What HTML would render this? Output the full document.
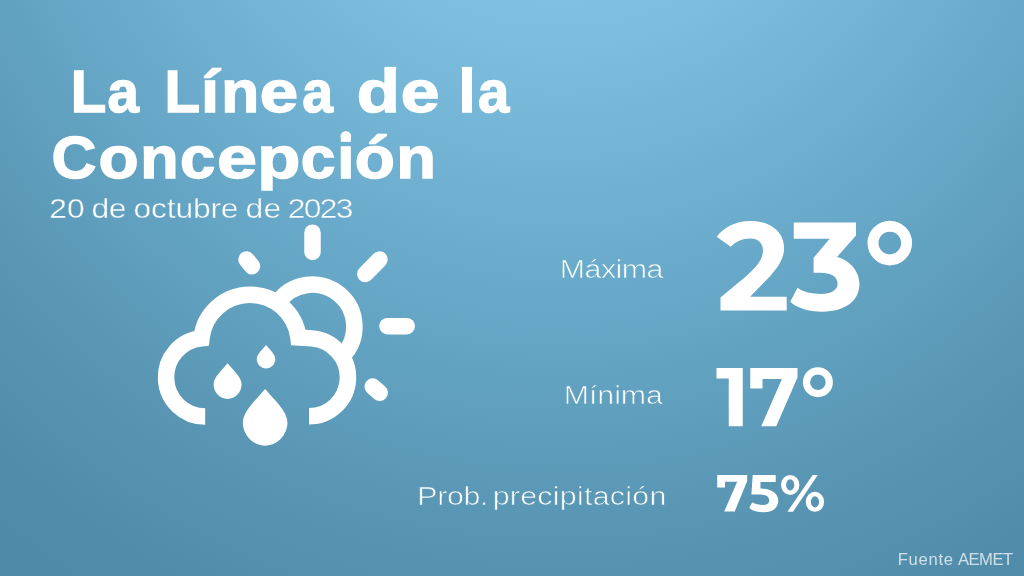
<!DOCTYPE html>
<html>
<head>
<meta charset="utf-8">
<title>La Línea de la Concepción</title>
<style>
html,body{margin:0;padding:0;background:#5f9ebd;}
body{width:1024px;height:576px;overflow:hidden;}
.card{position:relative;width:1024px;height:576px;overflow:hidden;
  background:radial-gradient(924px 1027px at 560px -300px,#80c1e3 29.2%,#68a9c9 58.4%,#5a98b6 77.9%,#4f8aa8 100%);}
.card svg{position:absolute;left:0;top:0;display:block;will-change:transform;}
text{font-family:"Liberation Sans",sans-serif;}
</style>
</head>
<body>
<div class="card">
<svg width="1024" height="576" viewBox="0 0 1024 576" role="img" aria-label="Previsión meteorológica para La Línea de la Concepción">
  <defs><mask id="all" maskUnits="userSpaceOnUse" x="0" y="0" width="1024" height="576"><rect width="1024" height="576" fill="#fff"/></mask></defs>
  <g mask="url(#all)">
  <!-- title + date -->
  <g font-weight="bold" font-size="58.89" fill="#fff" stroke="#fff" stroke-width="1.4" stroke-linejoin="miter" stroke-miterlimit="2">
    <text y="112.15"><tspan x="70.75" textLength="35.52" lengthAdjust="spacingAndGlyphs">L</tspan><tspan x="107.40" textLength="31.41" lengthAdjust="spacingAndGlyphs">a</tspan> <tspan x="164.45" textLength="35.52" lengthAdjust="spacingAndGlyphs">L</tspan><tspan x="201.05" textLength="18.00" lengthAdjust="spacingAndGlyphs">í</tspan><tspan x="221.15" textLength="37.94" lengthAdjust="spacingAndGlyphs">n</tspan><tspan x="259.75" textLength="38.39" lengthAdjust="spacingAndGlyphs">e</tspan><tspan x="302.30" textLength="30.76" lengthAdjust="spacingAndGlyphs">a</tspan> <tspan x="356.80" textLength="43.15" lengthAdjust="spacingAndGlyphs">d</tspan><tspan x="400.65" textLength="38.72" lengthAdjust="spacingAndGlyphs">e</tspan> <tspan x="458.40" textLength="17.14" lengthAdjust="spacingAndGlyphs">l</tspan><tspan x="478.10" textLength="31.26" lengthAdjust="spacingAndGlyphs">a</tspan></text>
    <text y="177.85"><tspan x="51.55" textLength="44.93" lengthAdjust="spacingAndGlyphs">C</tspan><tspan x="98.45" textLength="40.17" lengthAdjust="spacingAndGlyphs">o</tspan><tspan x="140.25" textLength="38.36" lengthAdjust="spacingAndGlyphs">n</tspan><tspan x="179.95" textLength="35.21" lengthAdjust="spacingAndGlyphs">c</tspan><tspan x="217.00" textLength="39.99" lengthAdjust="spacingAndGlyphs">e</tspan><tspan x="257.25" textLength="43.09" lengthAdjust="spacingAndGlyphs">p</tspan><tspan x="300.75" textLength="34.67" lengthAdjust="spacingAndGlyphs">c</tspan><tspan x="337.20" textLength="17.23" lengthAdjust="spacingAndGlyphs">i</tspan><tspan x="354.65" textLength="40.17" lengthAdjust="spacingAndGlyphs">ó</tspan><tspan x="396.30" textLength="39.75" lengthAdjust="spacingAndGlyphs">n</tspan></text>
    <!-- ascender / i-dot touch-ups -->
    <rect x="384.6" y="66.9" width="11.5" height="3" stroke="none"/>
    <rect x="461.9" y="66.9" width="10.2" height="3" stroke="none"/>
    <circle cx="345.9" cy="136.3" r="5.2" stroke="none"/>
  </g>
  <text transform="translate(0 218.20) scale(1.12 1)" font-size="28.40" fill="#fff" stroke="#66a5c5" stroke-width="0.4"><tspan x="43.97" letter-spacing="0.045">20</tspan> <tspan x="81.79" letter-spacing="-0.491">de</tspan> <tspan x="119.20" letter-spacing="-0.156">octubre</tspan> <tspan x="219.11" letter-spacing="0.357">de</tspan> <tspan x="257.01" letter-spacing="-1.548">2023</tspan></text>

  <!-- labels -->
  <text transform="translate(559.85 277.70) scale(1.2 1)" font-size="25.30" letter-spacing="-0.467" fill="#fff" stroke="#6aabca" stroke-width="0.6">Máxima</text>
  <text transform="translate(563.75 404.30) scale(1.2 1)" font-size="25.30" letter-spacing="-0.058" fill="#fff" stroke="#60a0bf" stroke-width="0.6">Mínima</text>
  <text transform="translate(0 505.30) scale(1.2 1)" font-size="25.30" fill="#fff" stroke="#5997b5" stroke-width="0.6"><tspan x="347.71" letter-spacing="-0.271">Prob.</tspan> <tspan x="410.54" letter-spacing="0.226">precipitación</tspan></text>

  <!-- 23° -->
  <g fill="#fff"><title>23°</title>
    <path d="M716.7 236.8 C724 227 736 221 750.5 221 C769.5 221 784.1 231 784.1 248 C784.1 258 779 266 770.3 276 L750.1 296.7 L786.7 296.7 L786.7 310.6 L720.5 310.6 L720.5 297.4 L746.4 276 C755 268 763 260 763 250.4 C763 243 758 238.4 750.5 238.4 C742 238.4 735.5 241.5 730.75 246.7 Z"/>
    <path d="M793.8 222.5 L856 222.5 L856 235.6 L837 257.1 C848 259.5 859.4 270 859.4 284.1 C859.4 301 845 311.7 822.5 311.7 C808 311.7 797 308 790.2 301.8 L797.5 287.8 C803 292 812 294 821 294 C831 294 837.6 290.5 837.6 283.6 C837.6 276.5 831 272.7 820 272.7 L813.6 272.7 L813.6 257.7 L829.75 238.7 L793.8 238.7 Z"/>
  </g>
  <circle cx="889.8" cy="243.1" r="16.8" fill="none" stroke="#fff" stroke-width="11"/>

  <!-- 17° -->
  <g fill="#fff"><title>17°</title>
    <path d="M716.5 368.1 H742.75 V426.25 H728.75 V378.5 H716.5 Z"/>
    <path id="seven" d="M750.25 368.1 H797.5 V377.5 L776.25 426.25 H761.25 L781.9 379 H762.5 V388.5 H750.25 Z"/>
  </g>
  <circle cx="817.9" cy="382.2" r="11.4" fill="none" stroke="#fff" stroke-width="7.2"/>

  <!-- 75% -->
  <g fill="#fff"><title>75%</title>
    <path d="M717.2 475 H747.2 V481 L734.75 511.5 H724.2 L737.2 481.7 H725 V487.5 H717.2 Z"/>
    <path d="M752.7 474.9 L775.7 474.9 L775.7 481.9 L760.5 481.9 L760.5 488.4 C770 488.4 778.3 492.5 778.3 500.5 C778.3 508 772.5 512.3 764 512.3 C758 512.3 752.5 510.8 749.2 507.9 L752.2 502.3 C755 504 759 504.9 763.5 504.9 C767 504.9 769.2 503.5 769.2 500.5 C769.2 496.5 766 494.5 759 494.5 L751.4 494.5 Z"/>
    <path d="M812.6 474.9 H817.8 L793 511.8 H787.4 Z"/>
  </g>
  <path fill="#fff" fill-rule="evenodd" d="M781.00 484.9 a9.2 10.0 0 1 0 18.4 0 a9.2 10.0 0 1 0 -18.4 0 Z M786.10 484.9 a4.1 5.6 0 1 0 8.2 0 a4.1 5.6 0 1 0 -8.2 0 Z M805.75 501.85 a9.2 10.0 0 1 0 18.4 0 a9.2 10.0 0 1 0 -18.4 0 Z M810.85 501.85 a4.1 5.6 0 1 0 8.2 0 a4.1 5.6 0 1 0 -8.2 0 Z"/>

  <text transform="translate(0 564.80) scale(1.04 1)" font-size="16.00" fill="#fff" fill-opacity="0.72"><tspan x="863.22" letter-spacing="0.692">Fuente</tspan> <tspan x="921.15" letter-spacing="-0.517">AEMET</tspan></text>

  <!-- weather icon -->
  <g fill="none" stroke="#fff" stroke-width="16.5"><title>Nuboso con lluvia</title>
    <path d="M277.8 302.8 A42 42 0 1 1 342.4 356"/>
    <g stroke-linecap="round">
      <path d="M312.5 232.7 V252"/>
      <path d="M387.5 326.2 H406.7"/>
      <path d="M365.3 274.1 L379.5 259.4"/>
      <path d="M246.5 259.5 L252 266.2"/>
      <path d="M372.7 386.6 L379.7 392.8"/>
    </g>
    <path stroke-linejoin="miter" stroke-miterlimit="4" d="M205.20 416.50 A39.2 39.2 0 0 1 201.48 338.28 A48.8 48.8 0 0 1 298.43 337.50 L311.62 338.39 A39.0 39.0 0 0 1 309.00 416.30"/>
  </g>
  <path fill="#fff" d="M266.05 344.90 C269.77 349.36 275.35 354.20 275.35 358.85 C275.35 364.22 271.19 368.58 266.05 368.58 C260.91 368.58 256.75 364.22 256.75 358.85 C256.75 354.20 262.33 349.36 266.05 344.90 Z M227.60 363.30 C233.20 370.02 241.60 377.30 241.60 384.30 C241.60 392.39 235.33 398.94 227.60 398.94 C219.87 398.94 213.60 392.39 213.60 384.30 C213.60 377.30 222.00 370.02 227.60 363.30 Z M265.15 388.90 C274.07 399.60 287.45 411.20 287.45 422.35 C287.45 435.23 277.47 445.68 265.15 445.68 C252.83 445.68 242.85 435.23 242.85 422.35 C242.85 411.20 256.23 399.60 265.15 388.90 Z"/>
  </g>
</svg>
</div>
</body>
</html>
